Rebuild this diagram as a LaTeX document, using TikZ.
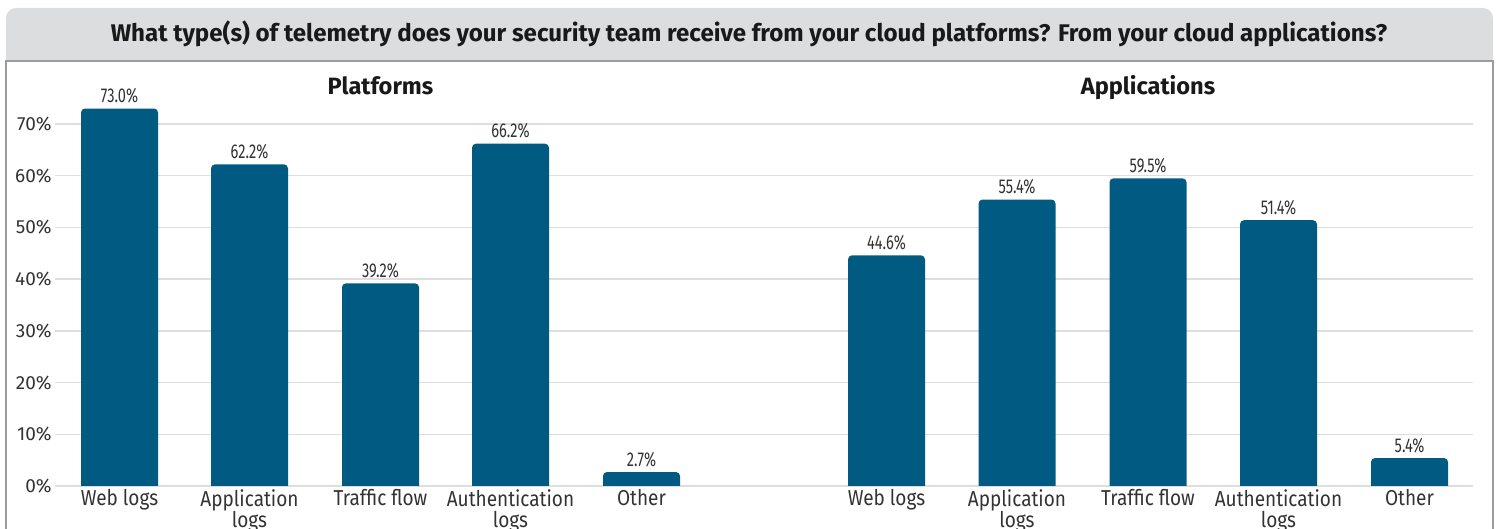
\documentclass[tikz,border=0pt]{standalone}
\usepackage{fontspec}
\setmainfont{Fira Sans}
\newfontfamily\condfont[FakeStretch=0.73]{Fira Sans}
\newfontfamily\labfont[FakeStretch=0.88]{Fira Sans}
\definecolor{barblue}{HTML}{015A82}
\definecolor{headgray}{HTML}{DCDDDE}
\definecolor{framegray}{HTML}{9C9C9C}
\definecolor{gridgray}{HTML}{DEDEDE}
\definecolor{textgray}{HTML}{333333}

\begin{document}
\begin{tikzpicture}[
	x=0.5pt, y=-0.5pt,
	barfill/.style={fill=barblue},
	gridline/.style={draw=gridgray, line width=0.7pt},
	frameline/.style={draw=framegray, line width=0.8pt},
	titletext/.style={inner sep=0pt, font=\bfseries\fontsize{12.05}{14}\selectfont, text=black!90},
	paneltitle/.style={anchor=base, inner sep=0pt, font=\bfseries\fontsize{11.8}{13}\selectfont, text=black!90},
	ticklabel/.style={anchor=east, inner sep=0pt, font=\fontsize{9.5}{11}\selectfont, text=textgray},
	valuelabel/.style={anchor=base, inner sep=0pt, font=\condfont\fontsize{10}{11}\selectfont, text=textgray},
	catlabel/.style={anchor=north, inner sep=0pt, align=center, font=\labfont\fontsize{10.8}{10.6}\selectfont, text=textgray}
	]
	\useasboundingbox (0,0) rectangle (1496,529);
	
	% Header bar and frame
	\fill[headgray] (6,61) [rounded corners=5pt] -- (6,8) -- (1493,8) [sharp corners] -- (1493,61) -- cycle;
	\draw[frameline] (6,560) -- (6,61) -- (1493,61) -- (1493,560);
	\node[titletext] (title) at (749,34) {What type(s) of telemetry does your security team receive from your cloud platforms? From your cloud applications?};
	
	% Grid lines and axis labels
	\foreach \k/\pct in {0/0,1/10,2/20,3/30,4/40,5/50,6/60,7/70} {
		\draw[gridline] (55,486-51.71*\k) -- (1473,486-51.71*\k);
		\node[ticklabel] (tick\k) at (52,486-51.71*\k) {\pct\%};
	}
	
	% Panel titles
	\node[paneltitle] (ptitle) at (380.5,95) {Platforms};
	\node[paneltitle] (atitle) at (1148,95) {Applications};
	
	% Platforms bars
	\foreach \x/\v/\lab [count=\i] in {119.5/73.0/Web logs, 249.5/62.2/Application\\logs, 380.5/39.2/Traffic flow, 510.5/66.2/Authentication\\logs, 641.5/2.7/Other} {
		\pgfmathsetmacro\t{486-5.171*\v}
		\fill[barfill] (\x-38.5,486) [rounded corners=2pt] -- (\x-38.5,\t) -- (\x+38.5,\t) [sharp corners] -- (\x+38.5,486) -- cycle;
		\node[valuelabel] (pv\i) at (\x,\t-6) {\v\%};
		\node[catlabel] (pc\i) at (\x,489) {\lab};
	}
	
	% Applications bars
	\foreach \x/\v/\lab [count=\i] in {886.5/44.6/Web logs, 1017/55.4/Application\\logs, 1148/59.5/Traffic flow, 1278.5/51.4/Authentication\\logs, 1409.5/5.4/Other} {
		\pgfmathsetmacro\t{486-5.171*\v}
		\fill[barfill] (\x-38.5,486) [rounded corners=2pt] -- (\x-38.5,\t) -- (\x+38.5,\t) [sharp corners] -- (\x+38.5,486) -- cycle;
		\node[valuelabel] (av\i) at (\x,\t-6) {\v\%};
		\node[catlabel] (ac\i) at (\x,489) {\lab};
	}
	
\end{tikzpicture}
\end{document}
